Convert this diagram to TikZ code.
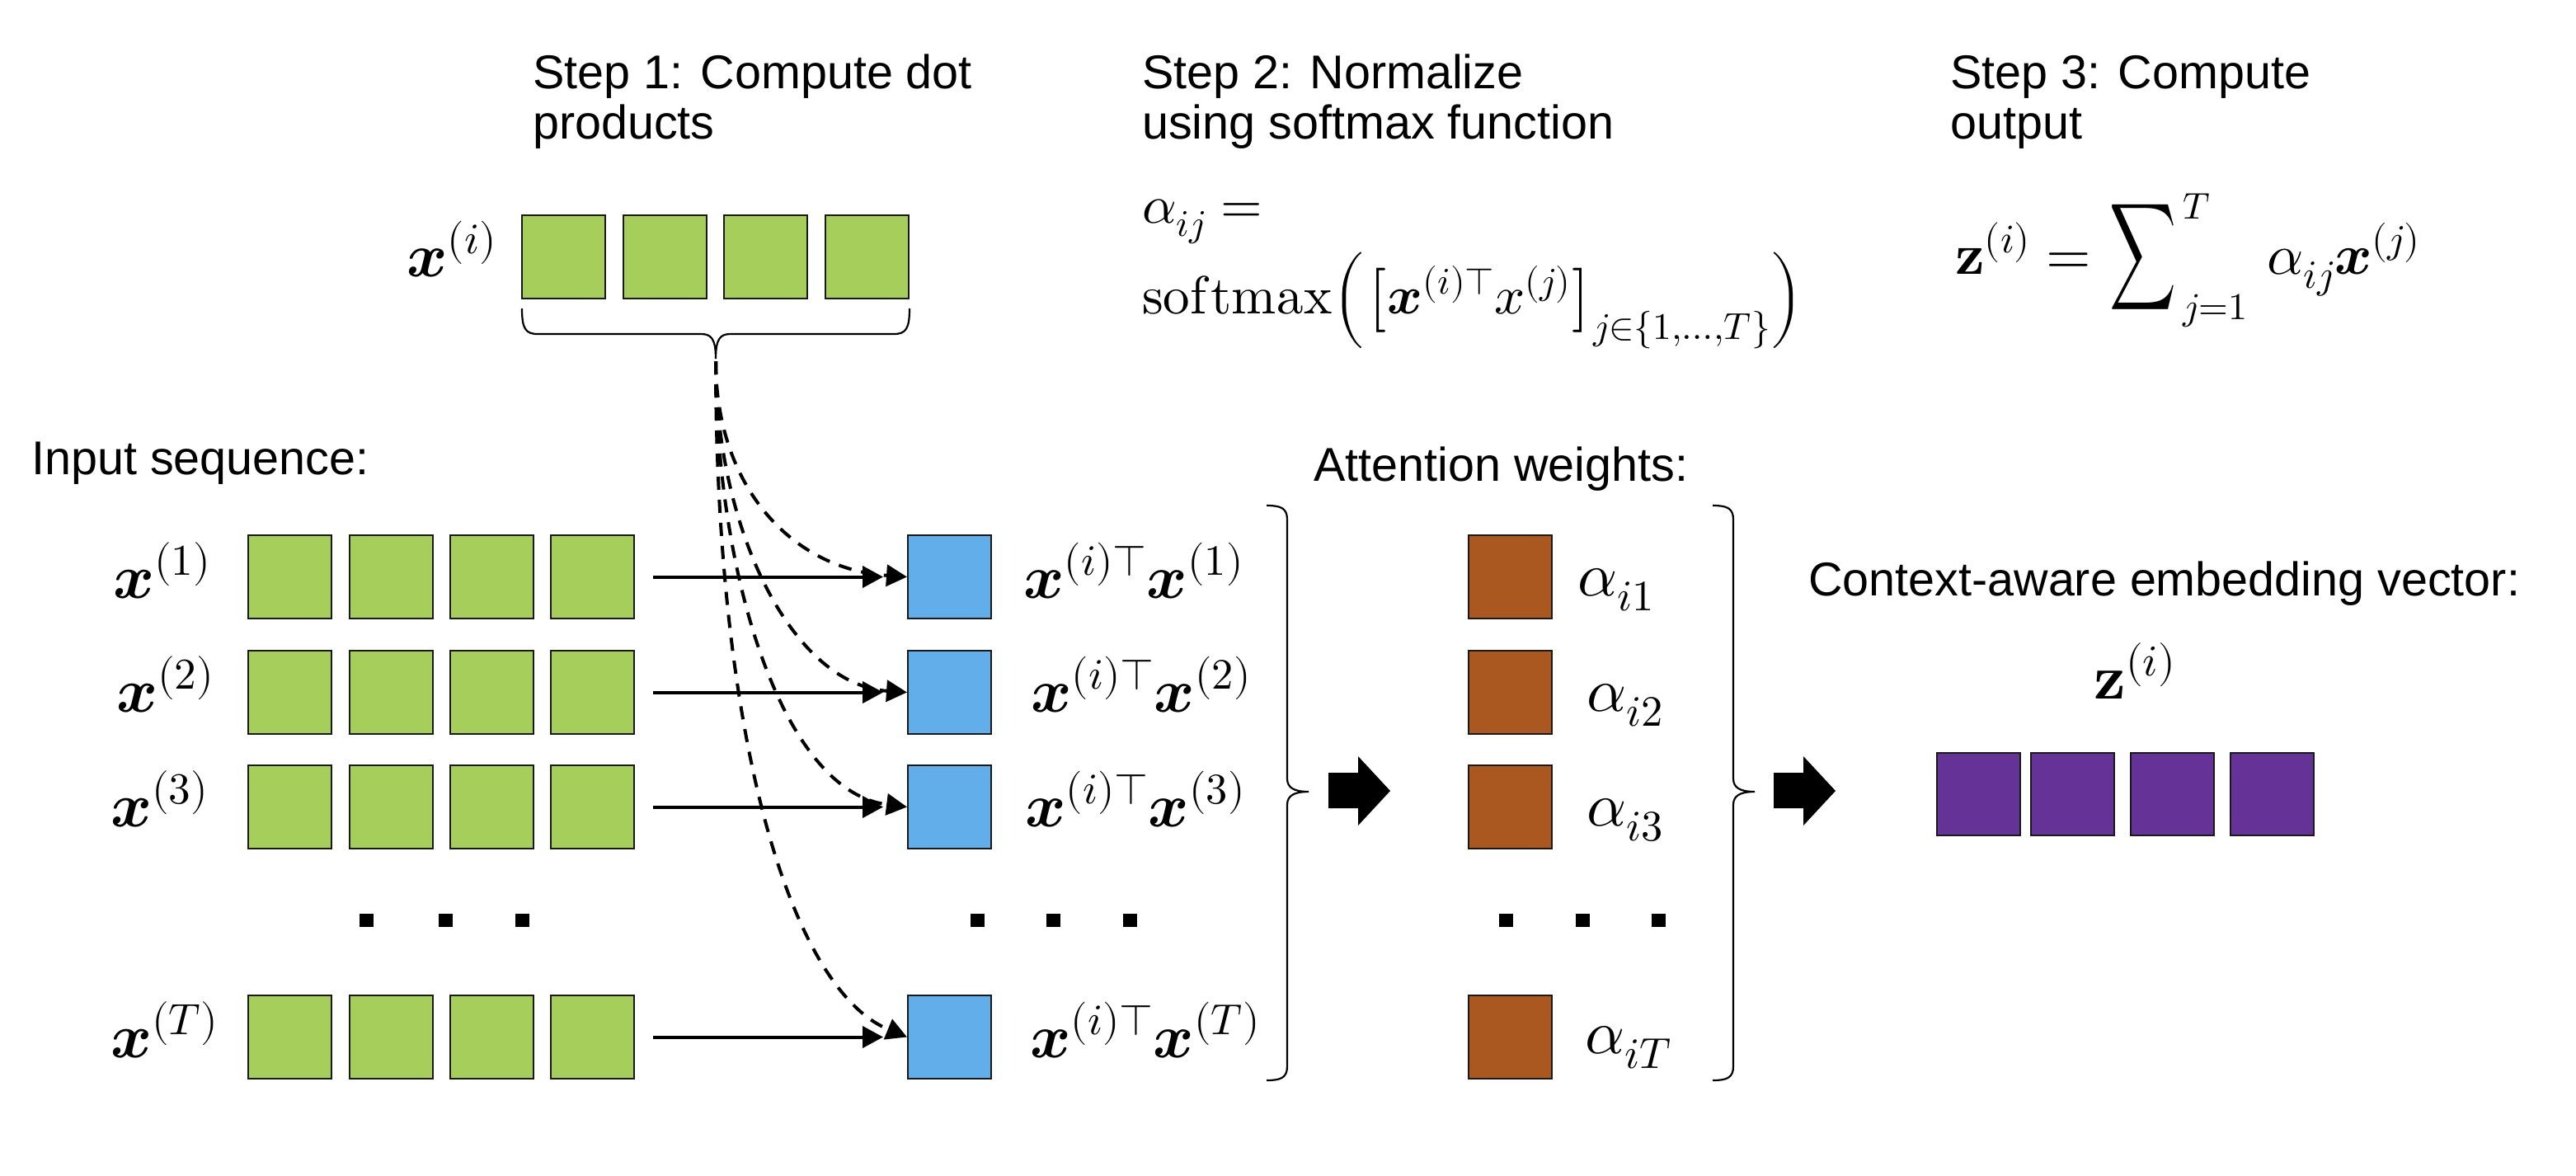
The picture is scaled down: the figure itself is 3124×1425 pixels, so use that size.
\documentclass[tikz,border=0pt]{standalone}
\usepackage{fontspec}
\usepackage{unicode-math}
\setmainfont{Liberation Sans}
\setmathfont{Latin Modern Math}
\usepackage{graphicx}
\usetikzlibrary{arrows.meta}
\definecolor{cgreen}{HTML}{A5CF5A}
\definecolor{cblue}{HTML}{62AEEB}
\definecolor{cbrown}{HTML}{AB5820}
\definecolor{cpurple}{HTML}{653398}
\newcommand{\fsz}[1]{\fontsize{#1}{#1}\selectfont}
\tikzset{
  lbl/.style={inner sep=0pt, anchor=base west, font=\fsz{57.5}},
  mth/.style={inner sep=0pt, anchor=base west},
  sq/.style={draw=black!90, line width=2pt, minimum width=101pt, minimum height=101pt, inner sep=0pt, anchor=north west},
  solidarr/.style={line width=4pt, -{Triangle[length=25pt,width=26pt]}},
  dasharr/.style={solidarr, dash pattern=on 16pt off 12pt},
  brc/.style={line width=2.2pt},
}
\begin{document}
\begin{tikzpicture}[x=1pt,y=-1pt]
\fill[white] (0,0) rectangle (3124,1425);
\useasboundingbox (0,0) rectangle (3124,1425);

% step titles
\node[lbl] (s1a) at (646,107) {Step 1: Compute dot};
\node[lbl] (s1b) at (646,168) {products};
\node[lbl] (s2a) at (1385,107) {Step 2: Normalize};
\node[lbl] (s2b) at (1385,168) {using softmax function};
\node[lbl] (s3a) at (2365,107) {Step 3: Compute};
\node[lbl] (s3b) at (2365,168) {output};

% step 2 formula
\node[mth,font=\fsz{65}] (f2a) at (1385,270) {$\alpha_{ij} =$};
\node[mth,font=\fsz{65}] (f2b) at (1385,380) {$\symup{softmax}\Bigl(\bigl[\symbfit{x}^{(i)\top}x^{(j)}\bigr]_{j\in\{1,\ldots,T\}}\Bigr)$};

% step 3 formula
\node[mth,font=\fsz{70}] (f3a) at (2371,332) {$\symbf{z}^{(i)} =$};
\node[inner sep=0pt] (f3s) at (2598.5,311.5) {\resizebox*{81pt}{127pt}{$\displaystyle\sum$}};
\node[inner sep=0pt, anchor=north west, font=\fsz{45}] (f3t) at (2647,235) {$T$};
\node[mth,font=\fsz{46}] (f3j) at (2647,387) {$j{=}1$};
\node[mth,font=\fsz{69}] (f3b) at (2749,332) {$\alpha_{ij}\symbfit{x}^{(j)}$};

% query vector
\node[mth,font=\fsz{75}] (xi) at (493,335) {$\symbfit{x}^{(i)}$};
\foreach \k/\x in {1/632,2/755,3/877,4/1000}
  \node[sq,fill=cgreen] (t\k) at (\x,260) {};
\draw[brc] (633,374) .. controls (633,398) and (637,405) .. (652,405) -- (850,405)
  .. controls (862,405) and (868,410) .. (868,435)
  .. controls (868,410) and (874,405) .. (886,405) -- (1084,405)
  .. controls (1099,405) and (1103,398) .. (1103,374);
\coordinate (bt) at (868,438);

% labels
\node[lbl] (inp) at (38,575) {Input sequence:};
\node[lbl] (att) at (1593,583) {Attention weights:};
\node[lbl] (ctx) at (2193,722) {Context-aware embedding vector:};

% rows
\foreach \r/\y in {1/648,2/788,3/927,T/1206}{
  \foreach \k/\x in {1/300,2/423,3/545,4/667}
    \node[sq,fill=cgreen] (g\r-\k) at (\x,\y) {};
  \node[sq,fill=cblue] (b\r) at (1100,\y) {};
  \node[sq,fill=cbrown] (a\r) at (1780,\y) {};
  \draw[solidarr, shorten <=22pt, shorten >=29pt] (g\r-4.east) -- (b\r.west);
}

% row labels
\node[mth,font=\fsz{76}] (lx1) at (137,725) {$\symbfit{x}^{(1)}$};
\node[mth,font=\fsz{76}] (lx2) at (141,863) {$\symbfit{x}^{(2)}$};
\node[mth,font=\fsz{76}] (lx3) at (134,1002) {$\symbfit{x}^{(3)}$};
\node[mth,font=\fsz{76}] (lxT) at (134,1282) {$\symbfit{x}^{(T)}$};
\node[mth,font=\fsz{75}] (dp1) at (1241,725) {$\symbfit{x}^{(i)\top}\symbfit{x}^{(1)}$};
\node[mth,font=\fsz{75}] (dp2) at (1250,863) {$\symbfit{x}^{(i)\top}\symbfit{x}^{(2)}$};
\node[mth,font=\fsz{75}] (dp3) at (1243,1002) {$\symbfit{x}^{(i)\top}\symbfit{x}^{(3)}$};
\node[mth,font=\fsz{75}] (dpT) at (1249,1282) {$\symbfit{x}^{(i)\top}\symbfit{x}^{(T)}$};
\node[mth,font=\fsz{75}] (al1) at (1913,722) {$\alpha_{i1}$};
\node[mth,font=\fsz{75}] (al2) at (1924,862) {$\alpha_{i2}$};
\node[mth,font=\fsz{75}] (al3) at (1924,1001) {$\alpha_{i3}$};
\node[mth,font=\fsz{75}] (alT) at (1922,1277) {$\alpha_{iT}$};

% dashed dot-product arrows
\draw[dasharr] (bt) .. controls (868,590) and (960,690) .. (b1.west);
\draw[dasharr] (bt) .. controls (868,640) and (960,830) .. (b2.west);
\draw[dasharr] (bt) .. controls (868,700) and (950,960) .. (b3.west);
\draw[dasharr] (bt) .. controls (868,900) and (960,1200) .. (bT.west);

% ellipsis dots
\foreach \cx in {444,540,633,1185,1277,1370,1826,1919,2011}
  \fill (\cx-8.5,1108) rectangle (\cx+8.5,1124);

% right braces
\foreach \bx in {1561,2102}
  \draw[brc] (\bx-25,613) .. controls (\bx-8,613) and (\bx,616) .. (\bx,630) -- (\bx,944)
    .. controls (\bx,955) and (\bx+8,960) .. (\bx+26,960)
    .. controls (\bx+8,960) and (\bx,965) .. (\bx,976) -- (\bx,1293)
    .. controls (\bx,1307) and (\bx-8,1310) .. (\bx-25,1310);

% block arrows
\foreach \ax in {1611,2151}
  \fill (\ax,937) -- (\ax+36,937) -- (\ax+36,917) -- (\ax+75,959) -- (\ax+36,1001) -- (\ax+36,980) -- (\ax,980) -- cycle;

% output vector
\node[mth,font=\fsz{76}] (zi) at (2539,847) {$\symbf{z}^{(i)}$};
\foreach \k/\x in {1/2348,2/2462,3/2583,4/2704}
  \node[sq,fill=cpurple,minimum height=100pt] (p\k) at (\x,912) {};
\end{tikzpicture}
\end{document}
